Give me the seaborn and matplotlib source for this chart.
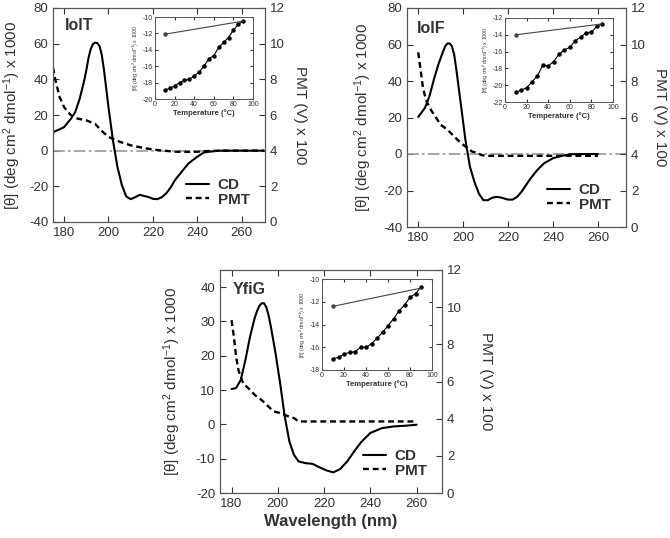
import matplotlib
matplotlib.use("Agg")
import matplotlib.pyplot as plt
import seaborn as sns

# CD spectra (mean residue ellipticity, x1000) and PMT voltage (x100)
iolt_cd_wl = [175, 178, 180, 183, 185, 187, 189, 190, 191, 192, 193, 194, 195, 196, 197, 198, 200, 202, 204, 206, 208,
              210, 212, 214, 216, 218, 220, 222, 224, 226, 228, 230, 233, 236, 240, 243, 246, 250, 260, 270]
iolt_cd = [10.4, 12.0, 13.2, 17.8, 21.6, 29.0, 39.0, 45.0, 52.0, 57.0, 59.8, 60.6, 60.3, 58.5, 53.5, 45.0, 24.3, 5.8, -9.0, -19.2, -25.7,
           -27.2, -26.1, -24.8, -25.4, -26.0, -27.0, -27.2, -26.1, -23.9, -20.7, -16.4, -11.8, -7.2, -3.4, -1.0, -0.5, 0.0, 0.0, 0.0]
iolt_pmt_wl = [175, 176, 178, 180, 183, 186, 190, 194, 197, 200, 205, 210, 215, 220, 225, 230, 235, 240, 245, 250, 270]
iolt_pmt = [8.66, 8.0, 7.0, 6.44, 6.0, 5.8, 5.7, 5.5, 5.1, 4.77, 4.5, 4.3, 4.17, 4.06, 4.0, 3.94, 3.93, 3.94, 3.98, 4.0, 4.0]

iolf_cd_wl = [180, 183, 185, 187, 189, 191, 192, 193, 194, 195, 196, 197, 199, 201, 203, 205, 207, 209, 211, 213, 215, 217,
              220, 222, 224, 226, 228, 230, 233, 236, 240, 244, 248, 260]
iolf_cd = [20.3, 25.3, 31.7, 41.0, 49.2, 56.0, 59.0, 60.6, 60.6, 59.0, 54.5, 46.0, 27.0, 7.8, -6.9, -15.2, -21.7, -25.3, -25.3, -23.9, -23.5, -23.9,
           -25.0, -25.0, -23.5, -20.7, -17.0, -13.4, -8.8, -5.1, -2.3, -1.0, -0.1, 0.0]
iolf_pmt_wl = [180, 181, 182, 183, 184, 186, 188, 190, 193, 196, 199, 202, 204, 206, 208, 210, 260]
iolf_pmt = [9.57, 8.65, 7.73, 7.18, 6.8, 6.35, 5.98, 5.6, 5.33, 4.96, 4.6, 4.32, 4.13, 4.08, 3.95, 3.9, 3.9]

yfig_cd_wl = [180, 182, 184, 186, 188, 190, 191, 192, 193, 194, 195, 196, 197, 199, 201, 203, 205, 207, 209, 212, 215, 218, 221,
              224, 227, 230, 233, 236, 240, 245, 250, 255, 260]
yfig_cd = [10.3, 10.6, 13.0, 18.8, 25.6, 31.0, 33.0, 34.5, 35.3, 35.3, 34.2, 31.8, 28.5, 20.8, 12.0, 2.3, -5.0, -8.9, -10.8, -11.3, -11.5, -12.5, -13.4,
           -14.0, -13.0, -10.8, -7.9, -5.2, -2.5, -1.1, -0.6, -0.4, -0.1]
yfig_pmt_wl = [180, 181, 182, 183, 185, 188, 190, 193, 196, 198, 201, 204, 207, 209, 212, 260]
yfig_pmt = [9.3, 8.4, 7.3, 6.6, 5.9, 5.55, 5.28, 5.0, 4.65, 4.4, 4.3, 4.15, 4.03, 3.85, 3.85, 3.85]

# thermal melts at 222 nm (insets)
temps = [10, 15, 20, 25, 30, 35, 40, 45, 50, 55, 60, 65, 70, 75, 80, 85, 90]
iolt_melt = [-18.9, -18.7, -18.4, -18.0, -17.7, -17.6, -17.2, -16.7, -16.0, -15.1, -14.7, -13.7, -13.1, -12.5, -11.6, -10.9, -10.5]
iolf_melt = [-20.86, -20.6, -20.3, -19.6, -18.9, -17.6, -17.7, -17.2, -16.3, -15.8, -15.5, -14.7, -14.3, -13.75, -13.7, -13.0, -12.7]
yfig_melt = [-17.0, -16.9, -16.6, -16.45, -16.4, -16.0, -16.0, -15.7, -15.2, -14.7, -14.1, -13.5, -12.8, -12.3, -11.6, -11.3, -10.7]
refold_temps = [10, 90]
iolt_refold = [-12.1, -10.5]
iolf_refold = [-14.0, -12.7]
yfig_refold = [-12.4, -10.8]

sns.set_style("ticks", {"xtick.direction": "in", "ytick.direction": "in"})
plt.rcParams["font.family"] = ["Liberation Sans", "DejaVu Sans"]
plt.rcParams["mathtext.fontset"] = "custom"
plt.rcParams["mathtext.rm"] = "Liberation Sans"
plt.rcParams["mathtext.it"] = "Liberation Sans:italic"
plt.rcParams["mathtext.bf"] = "Liberation Sans:bold"
plt.rcParams["axes.unicode_minus"] = False
plt.rcParams["text.color"] = "#333333"
plt.rcParams["axes.labelcolor"] = "#333333"
plt.rcParams["xtick.color"] = "#333333"
plt.rcParams["ytick.color"] = "#333333"
plt.rcParams["axes.edgecolor"] = "#555555"

W, H = 670, 538
fig = plt.figure(figsize=(6.7, 5.38), dpi=100)


def px_rect(left, right, top, bottom):
    return [left / W, (H - bottom) / H, (right - left) / W, (bottom - top) / H]


def draw_panel(rect, name, name_pos, cd_wl, cd, pmt_wl, pmt, xlim, ylim, yticks,
               zero_line, xlabel, label_x, inset_rect, melt, refold, in_ylim):
    ax = fig.add_axes(rect)
    ax2 = ax.twinx()
    if zero_line:
        ax.axhline(0, color="#9a9a9a", lw=1.2, ls=(0, (7, 2, 1.5, 2)), zorder=1)
    sns.lineplot(x=cd_wl, y=cd, ax=ax, color="black", lw=1.5)
    sns.lineplot(x=pmt_wl, y=pmt, ax=ax2, color="black", lw=1.7, linestyle=(0, (2.5, 1.6)))
    ax.set_xlim(*xlim)
    ax.set_ylim(*ylim)
    ax.set_yticks(yticks)
    ax.set_xticks([180, 200, 220, 240, 260])
    ax2.set_ylim(0, 12)
    ax2.set_yticks(range(0, 13, 2))
    ax.tick_params(top=True, right=False, labelsize=9.5, length=4)
    ax2.tick_params(labelsize=9.5, length=4)
    ax.set_ylabel("[θ] (deg cm$^2$ dmol$^{-1}$) x 1000", fontsize=11, va="center")
    ax.yaxis.set_label_coords(label_x[0], 0.5)
    ax2.set_ylabel("PMT (V) x 100", fontsize=11, rotation=270, va="center")
    ax2.yaxis.set_label_coords(label_x[1], 0.5)
    if xlabel:
        ax.set_xlabel(xlabel, fontsize=12, fontweight="bold", labelpad=3)
    ax.text(name_pos[0], name_pos[1], name, transform=ax.transAxes, fontsize=11.5,
            fontweight="bold", va="top", ha="left")
    handles = [ax.lines[-1], ax2.lines[-1]]
    ax2.legend(handles, ["CD", "PMT"], loc="lower right", frameon=False,
               prop={"size": 11, "weight": "bold"}, handlelength=1.5, labelspacing=0.05,
               handletextpad=0.6, borderaxespad=0.6)

    axi = fig.add_axes(inset_rect)
    sns.lineplot(x=temps, y=melt, ax=axi, color="black", lw=0.8, marker="o",
                 markersize=3.2, markeredgewidth=0)
    sns.lineplot(x=refold_temps, y=refold, ax=axi, color="#444444", lw=0.8, marker="o",
                 markersize=3.2, markeredgewidth=0, markevery=[0])
    axi.set_xlim(0, 100)
    axi.set_xticks(range(0, 101, 20))
    axi.set_ylim(*in_ylim)
    axi.set_yticks(range(int(in_ylim[0]), int(in_ylim[1]) + 1, 2))
    axi.tick_params(labelsize=5, length=2, pad=1.5, top=True, right=True)
    axi.set_xlabel("Temperature (°C)", fontsize=5.5, fontweight="bold", labelpad=1)
    axi.set_ylabel("[θ] (deg cm$^2$ dmol$^{-1}$) x 1000", fontsize=3.8, labelpad=1)
    for s in axi.spines.values():
        s.set_linewidth(0.7)


draw_panel(px_rect(53, 265, 8, 222), "IolT", (0.057, 0.955),
           iolt_cd_wl, iolt_cd, iolt_pmt_wl, iolt_pmt, (175, 270.5), (-40, 80), range(-40, 81, 20),
           True, None, (-0.193, 1.165), px_rect(155, 253, 17, 99), iolt_melt, iolt_refold, (-20, -10))

draw_panel(px_rect(407, 626, 8, 227), "IolF", (0.046, 0.94),
           iolf_cd_wl, iolf_cd, iolf_pmt_wl, iolf_pmt, (175, 272.5), (-40, 80), range(-40, 81, 20),
           True, None, (-0.2, 1.155), px_rect(505, 613, 18, 102), iolf_melt, iolf_refold, (-22, -12))

draw_panel(px_rect(220, 442, 270, 493), "YfiG", (0.059, 0.945),
           yfig_cd_wl, yfig_cd, yfig_pmt_wl, yfig_pmt, (175, 271), (-20, 45), range(-20, 41, 10),
           False, "Wavelength (nm)", (-0.216, 1.2), px_rect(322, 432, 279, 370), yfig_melt, yfig_refold, (-18, -10))

fig.savefig("out.png", dpi=100)
